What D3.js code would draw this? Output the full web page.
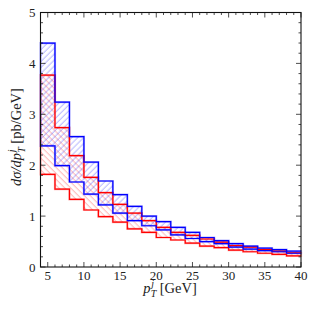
<!DOCTYPE html>
<html>
<head>
<meta charset="utf-8">
<script src="https://cdn.jsdelivr.net/npm/d3@7/dist/d3.min.js"></script>
<style>
  body { margin: 0; background: #fff; }
  svg text { font-family: "Liberation Serif", "DejaVu Serif", serif; fill: #222; }
</style>
</head>
<body>
<div id="chart"></div>
<script>
// bin edges in pT (GeV)
var binEdges = [4, 6, 8, 10, 12, 14, 16, 18, 20, 22, 24, 26, 28, 30, 32, 34, 36, 38, 40];

// blue band (upper / lower edge), pb/GeV
var blueHi = [4.40, 3.24, 2.56, 2.06, 1.69, 1.42, 1.19, 1.00, 0.89, 0.78, 0.68, 0.58, 0.52, 0.46, 0.41, 0.37, 0.34, 0.31];
var blueLo = [2.38, 1.99, 1.67, 1.43, 1.22, 1.06, 0.91, 0.81, 0.73, 0.63, 0.56, 0.50, 0.46, 0.39, 0.35, 0.32, 0.30, 0.27];

// red band (upper / lower edge)
var redHi = [3.77, 2.74, 2.19, 1.76, 1.46, 1.23, 1.06, 0.91, 0.78, 0.68, 0.62, 0.55, 0.49, 0.42, 0.39, 0.34, 0.31, 0.28];
var redLo = [1.82, 1.53, 1.33, 1.12, 0.99, 0.88, 0.75, 0.68, 0.58, 0.53, 0.47, 0.41, 0.38, 0.33, 0.30, 0.27, 0.25, 0.22];

var xTicks = [5, 10, 15, 20, 25, 30, 35, 40];
var yTicks = [0, 1, 2, 3, 4, 5];

var W = 315, H = 315;
var m = {left: 40.5, right: 14, top: 12.5, bottom: 48};

var svg = d3.select("#chart").append("svg")
    .attr("width", W).attr("height", H);

var x = d3.scaleLinear().domain([4, 40]).range([m.left, W - m.right]);
var y = d3.scaleLinear().domain([0, 5]).range([H - m.bottom, m.top]);

// hatch patterns
var defs = svg.append("defs");
function hatch(id, color, angle){
  var p = defs.append("pattern")
      .attr("id", id)
      .attr("patternUnits", "userSpaceOnUse")
      .attr("width", 4.2).attr("height", 4.2)
      .attr("patternTransform", "rotate(" + angle + ")");
  p.append("line")
      .attr("x1", 1).attr("y1", 0).attr("x2", 1).attr("y2", 4.2)
      .style("stroke", color).style("stroke-width", 0.8).style("stroke-opacity", 0.36);
}
hatch("hatchBlue", "#0000ff", 45);
hatch("hatchRed", "#ff0000", -45);

// step points for a band edge
function steps(vals){
  var pts = [];
  vals.forEach(function(v, i){
    pts.push([binEdges[i], v]);
    pts.push([binEdges[i+1], v]);
  });
  return pts;
}

var line = d3.line().x(function(d){return x(d[0]);}).y(function(d){return y(d[1]);});

function band(hi, lo, color, fillId){
  var poly = steps(hi).concat(steps(lo).reverse());
  svg.append("path")
     .attr("d", line(poly) + "Z")
     .style("fill", "url(#" + fillId + ")")
     .style("stroke", color)
     .style("stroke-opacity", 0.3)
     .style("stroke-width", 2.2);
}

band(redHi, redLo, "#ff0000", "hatchRed");
band(blueHi, blueLo, "#0000ff", "hatchBlue");

function stepLine(vals, color){
  svg.append("path")
     .attr("d", line(steps(vals)))
     .style("fill", "none")
     .style("stroke", color)
     .style("stroke-width", 1.2);
}
stepLine(redHi, "#ff0000");
stepLine(redLo, "#ff0000");
stepLine(blueHi, "#0000ff");
stepLine(blueLo, "#0000ff");

// axes: ticks inward on all four sides
var x0 = x.range()[0], x1 = x.range()[1], y0 = y.range()[0], y1 = y.range()[1];
var xMinor = d3.range(4, 41, 1), yMinor = d3.range(0, 5.01, 0.2);
var axG = svg.append("g").style("stroke", "#222").style("stroke-width", 0.8);

xMinor.forEach(function(v){
  var len = xTicks.indexOf(v) >= 0 ? 5 : 2.5;
  axG.append("line").attr("x1", x(v)).attr("x2", x(v)).attr("y1", y0).attr("y2", y0 - len);
  axG.append("line").attr("x1", x(v)).attr("x2", x(v)).attr("y1", y1).attr("y2", y1 + len);
});
yMinor.forEach(function(v){
  var major = Math.abs(v - Math.round(v)) < 1e-6;
  var len = major ? 5 : 2.5;
  axG.append("line").attr("y1", y(v)).attr("y2", y(v)).attr("x1", x0).attr("x2", x0 + len);
  axG.append("line").attr("y1", y(v)).attr("y2", y(v)).attr("x1", x1).attr("x2", x1 - len);
});

svg.append("rect")
   .attr("x", x0).attr("y", y1)
   .attr("width", x1 - x0).attr("height", y0 - y1)
   .style("fill", "none").style("stroke", "#111").style("stroke-width", 1.1);

svg.selectAll(".xl").data(xTicks).enter().append("text")
   .attr("x", function(d){return x(d);})
   .attr("y", y0 + 13)
   .attr("text-anchor", "middle")
   .style("font-size", "13px")
   .text(function(d){return d;});

svg.selectAll(".yl").data(yTicks).enter().append("text")
   .attr("x", x0 - 5)
   .attr("y", function(d){return y(d) + 4.5;})
   .attr("text-anchor", "end")
   .style("font-size", "13px")
   .text(function(d){return d;});

// axis title built from pieces: main, superscript j, subscript T, rest
function mathLabel(g, head, tail){
  var big = 14.5, small = 10;
  var t1 = g.append("text").attr("x", 0).attr("y", 0)
      .style("font-size", big + "px").style("font-style", "italic").text(head);
  var w1 = t1.node().getComputedTextLength();
  var sup = g.append("text").attr("x", w1 + 0.8).attr("y", -6.5)
      .style("font-size", small + "px").style("font-style", "italic").text("j");
  var sub = g.append("text").attr("x", w1 + 0.3).attr("y", 3.5)
      .style("font-size", small + "px").style("font-style", "italic").text("T");
  var w2 = Math.max(sup.node().getComputedTextLength() + 0.8, sub.node().getComputedTextLength() + 0.3);
  var t3 = g.append("text").attr("x", w1 + w2 + 3.5).attr("y", 0)
      .style("font-size", big + "px").text(tail);
  return w1 + w2 + 3.5 + t3.node().getComputedTextLength();
}

var xg = svg.append("g");
var xw = mathLabel(xg, "p", "[GeV]");
xg.attr("transform", "translate(" + (170 - xw / 2) + ",293)");

var yg = svg.append("g");
var yw = mathLabel(yg, "dσ/dp", "[pb/GeV]");
yg.attr("transform", "translate(21," + (137 + yw / 2) + ") rotate(-90)");
</script>
</body>
</html>
